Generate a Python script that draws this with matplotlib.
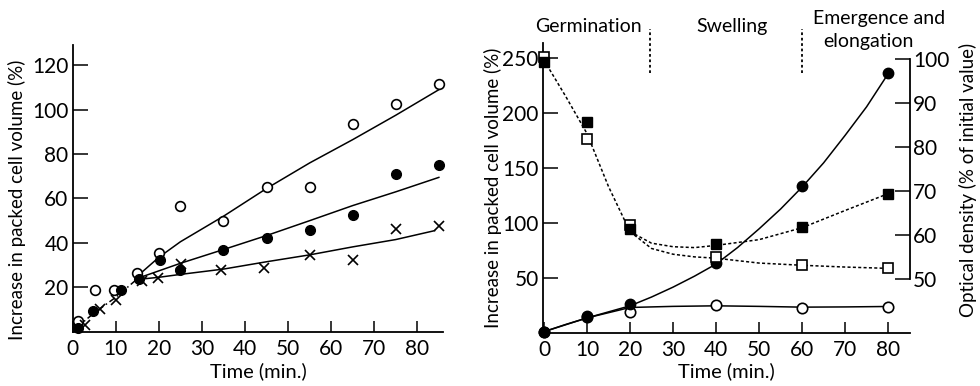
import matplotlib
matplotlib.use("Agg")
import matplotlib.pyplot as plt

plt.rcParams['font.family'] = ['Lato', 'DejaVu Sans']
plt.rcParams['font.size'] = 13

# --- left panel: packed cell volume, three conditions ---
t_open = [1.2, 5.2, 9.5, 15, 20, 25, 35, 45, 55, 65, 75, 85]
v_open = [4.8, 19, 19, 26.5, 35.5, 56.5, 50, 65, 65, 93.5, 102.5, 111.5]
t_filled = [1.2, 4.8, 11.2, 15.3, 20.2, 25, 35, 45, 55, 65, 75, 85]
v_filled = [1.8, 9.2, 18.8, 23.8, 32.5, 27.8, 37, 42.2, 46, 52.6, 71.2, 75]
t_cross = [2.8, 6.4, 10, 16.2, 19.8, 25.2, 34.5, 44.5, 55, 65, 75, 85]
v_cross = [2.8, 10.4, 14.3, 23, 24.2, 30.5, 27.8, 28.8, 34.7, 32.4, 46.3, 47.6]

# fitted lines
t_start = [1, 5, 10, 15]
v_start = [2, 8.5, 15.5, 23.8]
t_fit_open = [15, 20, 25, 35, 45, 55, 65, 75, 85]
v_fit_open = [25, 33.5, 40.5, 52, 64.5, 76, 86.5, 97.5, 109]
t_fit_filled = [15, 25, 35, 45, 55, 65, 75, 85]
v_fit_filled = [24, 30.8, 37, 43.3, 50, 56.8, 63, 69.5]
t_fit_cross = [15, 20, 25, 35, 45, 55, 65, 75, 84]
v_fit_cross = [23.5, 24.5, 25.8, 28.2, 31.5, 34.6, 38.2, 41.5, 45.5]

# --- right panel: cell volume and optical density over the phases ---
t_r = [0, 10, 20, 40, 60, 80]
vol_filled = [1.5, 15.5, 27, 64, 134, 237]
vol_open = [1.5, 15, 19, 25.8, 23, 24.2]
od_filled = [99.2, 85.7, 61.3, 58.1, 61.8, 69.4]
od_open = [100.4, 81.7, 62.4, 55.0, 53.2, 52.6]

t_vol_curve = [0, 5, 10, 15, 20, 25, 30, 35, 40, 45, 50, 55, 60, 65, 70, 75, 80]
vol_curve = [1.5, 8, 14, 19.5, 25, 33, 42, 52, 63, 78, 95, 113, 133, 155, 180, 206, 236]
t_flat = [0, 10, 20, 30, 40, 50, 60, 70, 80]
vol_flat = [1.5, 14, 23.5, 24.5, 25, 24.5, 23.8, 24, 24.4]

t_od_start = [0, 5, 10, 15, 20]
od_start = [99.6, 91.5, 83, 71, 60.8]
t_od_branch = [20, 25, 30, 35, 40, 50, 60, 70, 80]
od_branch_filled = [60.8, 58.2, 57.4, 57.2, 57.7, 59.0, 61.7, 65.6, 69.4]
od_branch_open = [60.8, 57.0, 55.7, 55.1, 54.8, 53.7, 53.2, 52.8, 52.5]

phases = ['Germination', 'Swelling']
phase_x = [10.3, 43.6]
boundaries = [24.6, 59.9]

fig = plt.figure(figsize=(9.8, 3.86), dpi=100)
ax1 = fig.add_axes([0.0742, 0.1407, 0.378, 0.742])
ax2 = fig.add_axes([0.5538, 0.1365, 0.3748, 0.752])
ax3 = ax2.twinx()

lw = 1.1
ax1.plot(t_start, v_start, color='black', lw=lw, ls=(0, (4, 2, 1, 2)))
ax1.plot(t_fit_open, v_fit_open, color='black', lw=lw)
ax1.plot(t_fit_filled, v_fit_filled, color='black', lw=lw)
ax1.plot(t_fit_cross, v_fit_cross, color='black', lw=lw)
ax1.plot(t_open, v_open, 'o', ms=7, mfc='white', mec='black', mew=1.2, clip_on=False, zorder=3)
ax1.plot(t_filled, v_filled, 'o', ms=7, mfc='black', mec='black', clip_on=False, zorder=3)
ax1.plot(t_cross, v_cross, 'x', ms=7, mec='black', mew=1.2, clip_on=False, zorder=3)

ax1.set_xlim(0, 86)
ax1.set_ylim(0, 129)
ax1.set_xticks(range(0, 90, 10))
ax1.set_yticks(range(20, 140, 20))
ax1.set_xlabel('Time (min.)', fontsize=14.5)
ax1.set_ylabel('Increase in packed cell volume (%)', fontsize=13.5)
ax1.xaxis.set_label_coords(0.5, -0.105)
ax1.yaxis.set_label_coords(-0.125, 0.46)

ax2.plot(t_vol_curve, vol_curve, color='black', lw=lw)
ax2.plot(t_flat, vol_flat, color='black', lw=lw)
ax2.plot(t_r, vol_open, 'o', ms=7.5, mfc='white', mec='black', mew=1.2, clip_on=False, zorder=3)
ax2.plot(t_r, vol_filled, 'o', ms=7.5, mfc='black', mec='black', clip_on=False, zorder=3)

dots = (0, (2, 1.5))
ax3.plot(t_od_start, od_start, color='black', lw=lw, ls=dots)
ax3.plot(t_od_branch, od_branch_filled, color='black', lw=lw, ls=dots)
ax3.plot(t_od_branch, od_branch_open, color='black', lw=lw, ls=dots)
ax3.plot(t_r, od_open, 's', ms=6.5, mfc='white', mec='black', mew=1.2, clip_on=False, zorder=3)
ax3.plot(t_r, od_filled, 's', ms=6.5, mfc='black', mec='black', clip_on=False, zorder=3)

ax2.set_xlim(-0.3, 85.1)
ax2.set_ylim(0, 264)
ax2.set_xticks(range(0, 90, 10))
ax2.set_yticks(range(50, 300, 50))
ax3.set_ylim(37.8, 103.5)
ax3.set_yticks(range(50, 110, 10))
ax3.spines['right'].set_bounds(50, 100)
ax2.set_xlabel('Time (min.)', fontsize=14.5)
ax2.set_ylabel('Increase in packed cell volume (%)', fontsize=13.5)
ax3.set_ylabel('Optical density (% of initial value)', fontsize=13.5)
ax2.xaxis.set_label_coords(0.5, -0.1)
ax2.yaxis.set_label_coords(-0.112, 0.5)
ax3.yaxis.set_label_coords(1.133, 0.53)

# phase boundaries and names above the right panel
for b in boundaries:
    ax2.plot([b, b], [237, 277], color='black', lw=1.3, ls=(0, (1.5, 1.5)), clip_on=False)
for name, x in zip(phases, phase_x):
    ax2.text(x, 279, name, ha='center', va='center', fontsize=14, clip_on=False)
ax2.text(78, 286, 'Emergence and', ha='center', va='center', fontsize=14, clip_on=False)
ax2.text(75.5, 265, 'elongation', ha='center', va='center', fontsize=14, clip_on=False)

for ax in (ax1, ax2):
    ax.spines['top'].set_visible(False)
    ax.spines['right'].set_visible(False)
    ax.tick_params(direction='in', length=8, width=1.1, pad=5, labelsize=15)
    for s in ('left', 'bottom'):
        ax.spines[s].set_linewidth(1.3)
ax1.tick_params(axis='y', direction='in', length=11, pad=3)
ax2.tick_params(axis='y', direction='in', length=11, pad=3)
ax3.spines['top'].set_visible(False)
ax3.spines['left'].set_visible(False)
ax3.spines['bottom'].set_visible(False)
ax3.spines['right'].set_linewidth(1.3)
ax3.tick_params(direction='in', length=11, width=1.1, pad=2, labelsize=15)

fig.savefig('out.png', dpi=100)
